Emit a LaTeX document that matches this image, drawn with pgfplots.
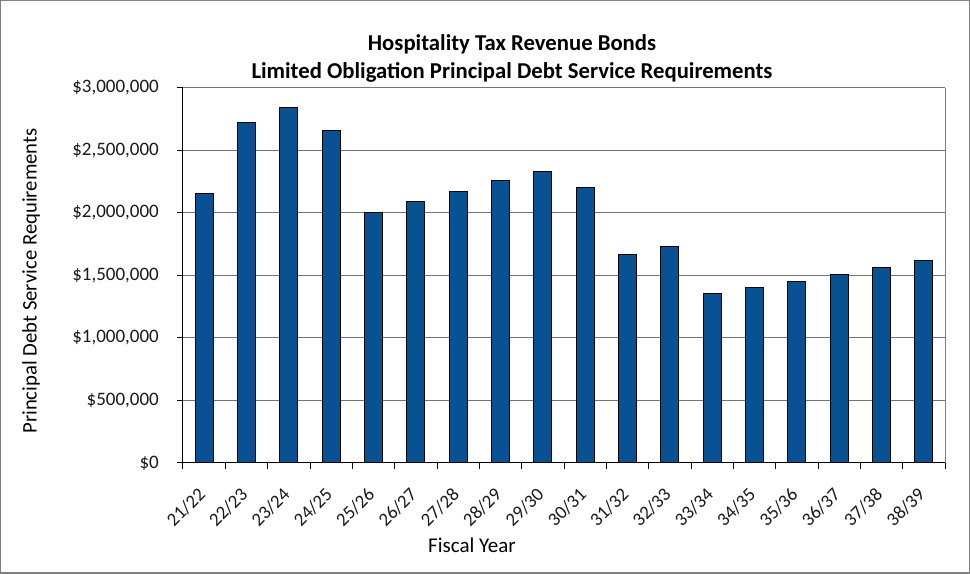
\documentclass[border=0pt]{standalone}
\usepackage{pgfplots}
\pgfplotsset{compat=1.18}
\usepackage{pgfplotstable}
\usepackage{fontspec}
\setmainfont{Carlito}
\definecolor{barblue}{RGB}{8,82,148}
\pgfplotstableread{
idx value
0 2152000
1 2722000
2 2846000
3 2656000
4 2002000
5 2090000
6 2168000
7 2260000
8 2330000
9 2207000
10 1667000
11 1728000
12 1352000
13 1400000
14 1448000
15 1504000
16 1560000
17 1618000
}\datatable
\begin{document}
\begin{tikzpicture}[x=1bp,y=1bp]
\useasboundingbox (-183,-111) rectangle (787,463);
\draw[black!50, line width=1.5bp] (-182.25,-110.25) rectangle (786.25,462.25);
\begin{axis}[
  at={(0,0)}, anchor=south west,
  scale only axis, width=762bp, height=375bp,
  xmin=-0.5, xmax=17.5, ymin=0, ymax=3000000,
  axis x line*=bottom, axis y line*=left,
  axis line style={black, line width=1bp},
  ybar, bar width=18bp,
  xtick={0,...,17},
  xticklabels={21/22,22/23,23/24,24/25,25/26,26/27,27/28,28/29,29/30,30/31,31/32,32/33,33/34,34/35,35/36,36/37,37/38,38/39},
  major x tick style={draw=none},
  minor xtick={-0.5,0.5,...,17.5},
  ytick={0,500000,1000000,1500000,2000000,2500000,3000000},
  yticklabels={{\$0},{\$500,000},{\$1,000,000},{\$1,500,000},{\$2,000,000},{\$2,500,000},{\$3,000,000}},
  tick align=outside, major tick length=6bp, minor tick length=6bp,
  tick style={black, line width=1bp},
  ymajorgrids, grid style={black!55, line width=1bp},
  scaled y ticks=false,
  tick label style={font=\fontsize{19bp}{21bp}\selectfont, text=black!90},
  xticklabel style={rotate=45, anchor=east, inner sep=0pt, xshift=-3bp, font=\fontsize{18.8bp}{21bp}\selectfont},
  yticklabel style={anchor=east, inner sep=0pt},
  xticklabel shift=20bp,
  yticklabel shift=18bp,
  clip=false,
]
\addplot[fill=barblue, draw=black, line width=1bp] table[x=idx, y=value] {\datatable};
\draw[black!50, line width=1bp] (rel axis cs:1,0) -- (rel axis cs:1,1);
\end{axis}
\node[font=\fontsize{22.7bp}{26bp}\selectfont\bfseries] at (329,419) {Hospitality Tax Revenue Bonds};
\node[font=\fontsize{22.7bp}{26bp}\selectfont\bfseries] at (329,391) {Limited Obligation Principal Debt Service Requirements};
\node[font=\fontsize{20.7bp}{24bp}\selectfont, rotate=90] at (-152,182) {Principal Debt Service Requirements};
\node[font=\fontsize{21bp}{24bp}\selectfont] at (289,-82) {Fiscal Year};
\end{tikzpicture}
\end{document}
